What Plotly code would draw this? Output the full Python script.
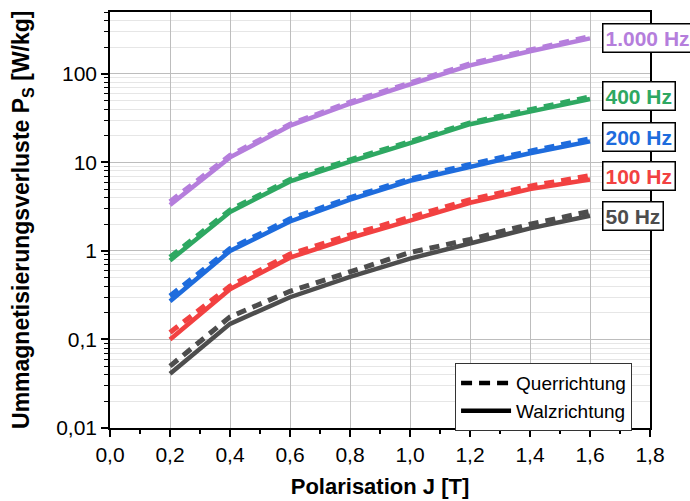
import plotly.graph_objects as go

# Polarisation J [T]
j_values = [0.2, 0.4, 0.6, 0.8, 1.0, 1.2, 1.4, 1.6]

# Magnetisation losses P_S [W/kg] per frequency: rolling direction (Walz) and transverse (Quer)
p_1000_walz = [3.3, 11.4, 26.0, 46.0, 76.0, 125.0, 180.0, 252.0]
p_1000_quer = [3.6, 12.0, 27.0, 48.0, 79.0, 130.0, 186.0, 264.0]
p_400_walz = [0.78, 2.75, 6.1, 10.2, 16.5, 27.0, 37.5, 52.0]
p_400_quer = [0.85, 2.9, 6.4, 10.7, 17.2, 28.0, 39.5, 55.0]
p_200_walz = [0.27, 1.0, 2.15, 3.8, 6.2, 9.0, 12.7, 17.3]
p_200_quer = [0.31, 1.06, 2.3, 4.0, 6.5, 9.5, 13.4, 18.5]
p_100_walz = [0.10, 0.37, 0.84, 1.4, 2.2, 3.5, 5.0, 6.4]
p_100_quer = [0.12, 0.40, 0.92, 1.52, 2.4, 3.8, 5.4, 7.1]
p_50_walz = [0.041, 0.15, 0.30, 0.51, 0.82, 1.2, 1.8, 2.5]
p_50_quer = [0.050, 0.18, 0.35, 0.58, 0.96, 1.35, 2.0, 2.8]

freq_labels = ["1.000 Hz", "400 Hz", "200 Hz", "100 Hz", "50 Hz"]
colors = ["#B57EDC", "#2EA862", "#1E6CDD", "#F24141", "#4D4D4D"]
walz = [p_1000_walz, p_400_walz, p_200_walz, p_100_walz, p_50_walz]
quer = [p_1000_quer, p_400_quer, p_200_quer, p_100_quer, p_50_quer]
label_y = [0.9375, 0.798, 0.6995, 0.6046, 0.5108]

x_tickvals = [0.0, 0.2, 0.4, 0.6, 0.8, 1.0, 1.2, 1.4, 1.6, 1.8]
x_ticktext = ["0,0", "0,2", "0,4", "0,6", "0,8", "1,0", "1,2", "1,4", "1,6", "1,8"]
y_tickvals = [0.01, 0.1, 1, 10, 100]
y_ticktext = ["0,01", "0,1", "1", "10", "100"]

FONT = "Liberation Sans, Arial, sans-serif"
DASH = "10px,7px"

fig = go.Figure()

for c, ws, qs in zip(colors, walz, quer):
    fig.add_trace(go.Scatter(x=j_values, y=ws, mode="lines",
                             line=dict(color=c, width=4.5), showlegend=False))
    fig.add_trace(go.Scatter(x=j_values, y=qs, mode="lines",
                             line=dict(color=c, width=5, dash=DASH), showlegend=False))

# legend entries (line style only)
fig.add_trace(go.Scatter(x=[None], y=[None], mode="lines", name="Querrichtung",
                         line=dict(color="black", width=4.5, dash="11px,7px")))
fig.add_trace(go.Scatter(x=[None], y=[None], mode="lines", name="Walzrichtung",
                         line=dict(color="black", width=4.5)))

# frequency labels at the right-hand end of the curves
for lab, c, yp in zip(freq_labels, colors, label_y):
    fig.add_annotation(x=0.911, y=yp, xref="paper", yref="paper",
                       xanchor="left", yanchor="middle", text=lab, showarrow=False,
                       font=dict(family=FONT, size=21, color=c, weight="bold"),
                       bgcolor="white", bordercolor="black", borderwidth=1.5,
                       borderpad=2)

# y-axis title as a rotated annotation
fig.add_annotation(x=-0.163, y=0.5, xref="paper", yref="paper",
                   xanchor="center", yanchor="middle", textangle=-90, showarrow=False,
                   text="Ummagnetisierungsverluste P<sub>S</sub> [W/kg]",
                   font=dict(family=FONT, size=23, color="black", weight="bold"))

fig.update_layout(
    width=690, height=501,
    margin=dict(l=110, r=40, t=12, b=73),
    paper_bgcolor="white", plot_bgcolor="white",
    font=dict(family=FONT, size=21, color="black"),
    legend=dict(x=0.639, y=0.156, xanchor="left", yanchor="top",
                bgcolor="white", bordercolor="#333333", borderwidth=1,
                font=dict(family=FONT, size=19, color="black"),
                tracegroupgap=0, itemwidth=50),
)

fig.update_xaxes(
    range=[0, 1.8], tickmode="array", tickvals=x_tickvals, ticktext=x_ticktext,
    automargin=False,
    showline=True, linecolor="black", linewidth=1.5, mirror=True,
    ticks="outside", ticklen=7, tickwidth=1.5, tickcolor="black",
    showgrid=True, gridcolor="#BDBDBD", gridwidth=1, zeroline=False,
    minor=dict(ticks="outside", ticklen=4, tickwidth=1.5, tickcolor="black",
               dtick=0.1, tick0=0, showgrid=False),
    title=dict(text="Polarisation J [T]", standoff=14,
               font=dict(family=FONT, size=22, color="black", weight="bold")),
    tickfont=dict(family=FONT, size=21, color="black"),
)

fig.update_yaxes(
    type="log", range=[-2, 2.699], tickmode="array",
    tickvals=y_tickvals, ticktext=y_ticktext,
    automargin=False,
    showline=True, linecolor="black", linewidth=1.5, mirror=True,
    ticks="outside", ticklen=7, tickwidth=1.5, tickcolor="black",
    showgrid=True, gridcolor="#BDBDBD", gridwidth=1, zeroline=False,
    minor=dict(ticks="outside", ticklen=4, tickwidth=1.2, tickcolor="black",
               dtick="D1", showgrid=True, gridcolor="#E6E6E6", gridwidth=1),
    tickfont=dict(family=FONT, size=21, color="black"),
)

fig.write_html("out.html")
